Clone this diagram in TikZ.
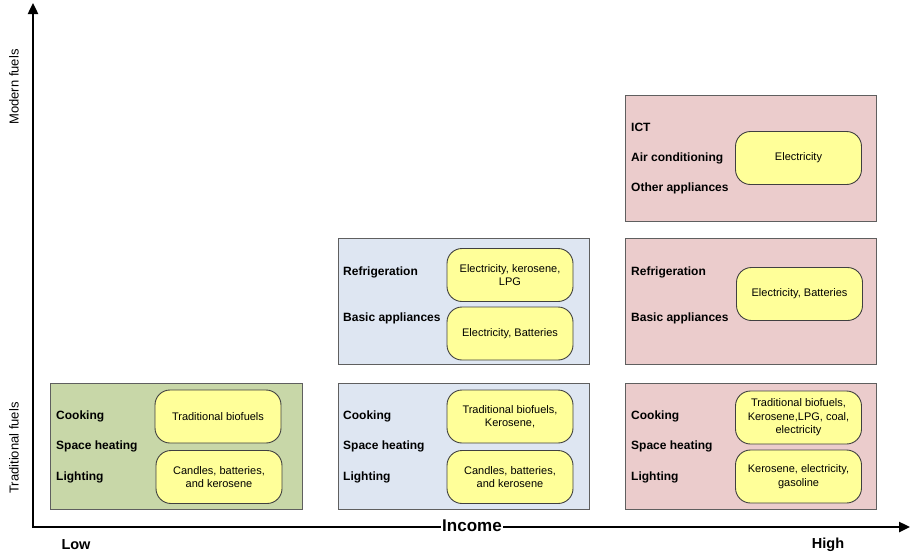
\documentclass[tikz,border=0pt]{standalone}
\usepackage{fontspec}
\setmainfont{Liberation Sans}
\usetikzlibrary{arrows.meta}
\definecolor{lowgreen}{RGB}{200,215,168}
\definecolor{midblue}{RGB}{222,230,242}
\definecolor{highpink}{RGB}{235,204,204}
\definecolor{fuelyellow}{RGB}{255,255,153}
\definecolor{boxgray}{RGB}{95,95,95}
\tikzstyle{level}=[draw=boxgray,line width=0.9pt,minimum width=251pt,minimum height=126pt,inner sep=0pt]
\tikzstyle{fuel}=[draw=black!75,fill=fuelyellow,line width=0.9pt,rounded corners=15pt,minimum width=126pt,minimum height=53pt,align=center,inner sep=1pt,font=\fontsize{11}{13.5}\selectfont]
\tikzstyle{use}=[anchor=west,inner sep=0pt,font=\fontsize{12}{14}\selectfont\bfseries]
\tikzstyle{axis}=[line width=2.4pt,-{Triangle[length=11pt,width=10pt]}]

\begin{document}
\begin{tikzpicture}[x=1pt,y=-1pt]
	\useasboundingbox (0,0) rectangle (911,555);
	% axes
	\coordinate (origin) at (33,527);
	\coordinate (ytop) at (33,3);
	\coordinate (xend) at (910,527);
	\draw[axis] ([yshift=-1.2pt]origin) -- (ytop);
	\draw[axis] ([xshift=-1.2pt]origin) -- (xend);
	\node[fill=white,inner sep=1pt,font=\fontsize{17}{20}\selectfont\bfseries] (income) at (472,526) {Income};
	\node[font=\fontsize{14.5}{17}\selectfont\bfseries] (low) at (76,545) {Low};
	\node[font=\fontsize{14.5}{17}\selectfont\bfseries] (high) at (828,545) {High};
	\node[rotate=90,font=\fontsize{13}{15}\selectfont] (modern) at (14,87) {Modern fuels};
	\node[rotate=90,font=\fontsize{13}{15}\selectfont] (traditional) at (14,448) {Traditional fuels};

	% low income
	\node[level,fill=lowgreen,minimum width=252pt] (low1) at (176,446) {};
	\node[use] (low1a) at (56,416) {Cooking};
	\node[use] (low1b) at (56,446) {Space heating};
	\node[use] (low1c) at (56,477) {Lighting};
	\node[fuel] (low1f1) at (218,416.5) {Traditional biofuels};
	\node[fuel] (low1f2) at (219,477) {Candles, batteries,\\and kerosene};

	% middle income
	\node[level,fill=midblue] (mid1) at (463.5,446) {};
	\node[use] (mid1a) at (343,416) {Cooking};
	\node[use] (mid1b) at (343,446) {Space heating};
	\node[use] (mid1c) at (343,477) {Lighting};
	\node[fuel] (mid1f1) at (510,416.5) {Traditional biofuels,\\Kerosene,};
	\node[fuel] (mid1f2) at (510,477) {Candles, batteries,\\and kerosene};
	\node[level,fill=midblue] (mid2) at (463.5,301) {};
	\node[use] (mid2a) at (343,272) {Refrigeration};
	\node[use] (mid2b) at (343,318) {Basic appliances};
	\node[fuel] (mid2f1) at (510,275) {Electricity, kerosene,\\LPG};
	\node[fuel] (mid2f2) at (510,333.5) {Electricity, Batteries};

	% high income
	\node[level,fill=highpink] (high1) at (750.5,446) {};
	\node[use] (high1a) at (631,416) {Cooking};
	\node[use] (high1b) at (631,446) {Space heating};
	\node[use] (high1c) at (631,477) {Lighting};
	\node[fuel] (high1f1) at (798.5,417.5) {Traditional biofuels,\\Kerosene,LPG, coal,\\electricity};
	\node[fuel] (high1f2) at (798.5,476.5) {Kerosene, electricity,\\gasoline};
	\node[level,fill=highpink] (high2) at (750.5,301) {};
	\node[use] (high2a) at (631,272) {Refrigeration};
	\node[use] (high2b) at (631,318) {Basic appliances};
	\node[fuel] (high2f) at (799.5,294) {Electricity, Batteries};
	\node[level,fill=highpink] (high3) at (750.5,158) {};
	\node[use] (high3a) at (631,127) {ICT};
	\node[use] (high3b) at (631,158) {Air conditioning};
	\node[use] (high3c) at (631,188) {Other appliances};
	\node[fuel] (high3f) at (798.5,158) {Electricity};
\end{tikzpicture}
\end{document}
